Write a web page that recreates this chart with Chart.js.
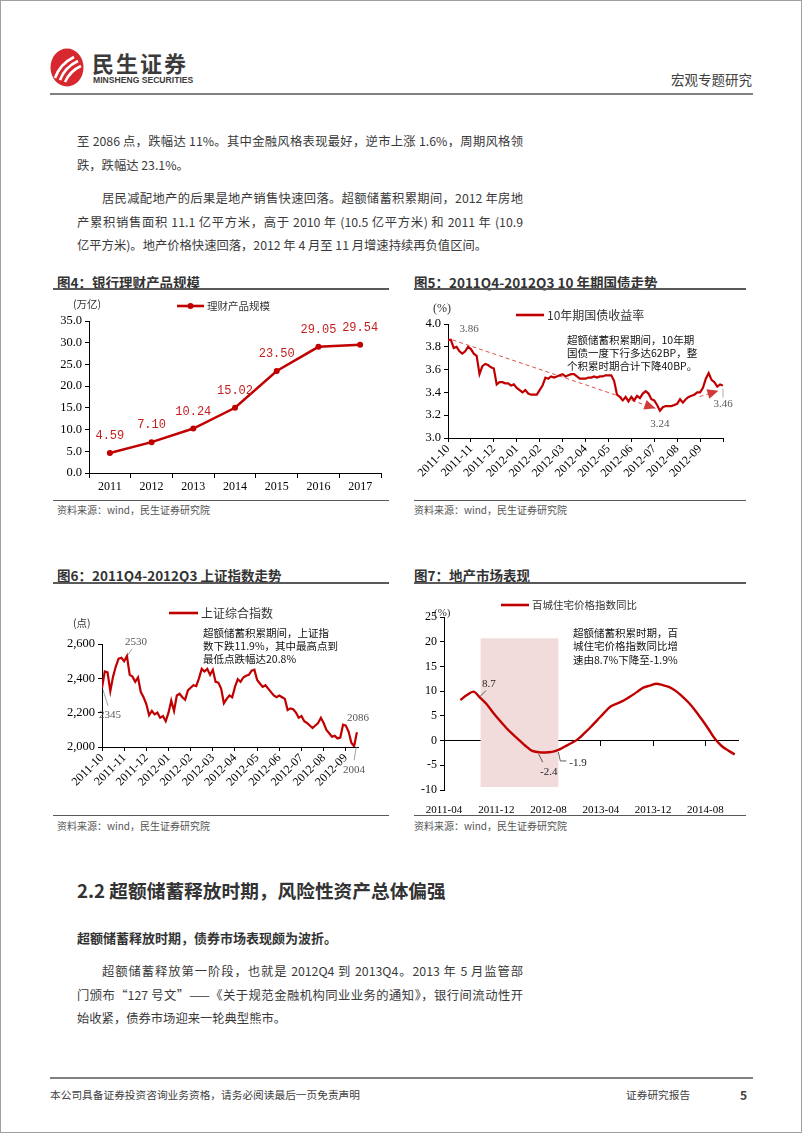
<!DOCTYPE html>
<html>
<head>
<meta charset="utf-8">
<script src="https://cdn.jsdelivr.net/npm/chart.js@4.4.1/dist/chart.umd.min.js"></script>
<style>
  html, body { margin: 0; padding: 0; background: #fff; }
  #page { position: relative; width: 802px; height: 1133px; box-sizing: border-box; border: 1px solid #a0a0a0;
          overflow: hidden; font-family: "Noto Sans CJK SC", "Noto Sans", sans-serif; color: #3a3a3a; }
  .abs { position: absolute; white-space: nowrap; }
  .line { position: absolute; height: 23px; line-height: 23px; font-size: 12.3px; white-space: nowrap; }
  .j { text-align: justify; text-align-last: justify; }
  .rule { position: absolute; background: #595959; height: 1.5px; }
  .ftitle { position: absolute; font-size: 13.5px; font-weight: bold; color: #333; line-height: 16px; white-space: nowrap; }
  .src { position: absolute; font-size: 10px; color: #555; line-height: 12px; white-space: nowrap; }
  canvas { position: absolute; }
</style>
</head>
<body>
<div id="page">
  <!-- header -->
  <svg class="abs" style="left:49px;top:47px" width="34" height="39" viewBox="0 0 34 39">
    <ellipse cx="17" cy="19.5" rx="16.5" ry="19" fill="#d7282f"/>
    <path d="M5 30 Q10 16 24 9" stroke="#fff" stroke-width="2.6" fill="none"/>
    <path d="M10 32 Q15 19 28 13" stroke="#fff" stroke-width="2.6" fill="none"/>
    <path d="M15 34 Q20 23 31 18" stroke="#fff" stroke-width="2.6" fill="none"/>
  </svg>
  <div class="abs" style="left:91px;top:48px;font-size:22px;font-weight:bold;letter-spacing:2px;color:#3b3b3b;line-height:26px">民生证券</div>
  <div class="abs" style="left:92px;top:74px;font-family:'Liberation Sans';font-size:8.6px;font-weight:bold;color:#3b3b3b;line-height:10px">MINSHENG SECURITIES</div>
  <div class="abs" style="left:670px;top:70px;font-size:13.5px;color:#404040;line-height:16px">宏观专题研究</div>
  <div class="rule" style="left:49px;top:92px;width:703px;height:2px;background:#808080"></div>

  <!-- body text -->
  <div class="line j" style="left:76px;top:129px;width:446px">至 2086 点，跌幅达 11%。其中金融风格表现最好，逆市上涨 1.6%，周期风格领</div>
  <div class="line" style="left:76px;top:153px">跌，跌幅达 23.1%。</div>
  <div class="line j" style="left:101px;top:186px;width:421px">居民减配地产的后果是地产销售快速回落。超额储蓄积累期间，2012 年房地</div>
  <div class="line j" style="left:76px;top:210px;width:446px">产累积销售面积 11.1 亿平方米，高于 2010 年 (10.5 亿平方米) 和 2011 年 (10.9</div>
  <div class="line" style="left:76px;top:233px">亿平方米)。地产价格快速回落，2012 年 4 月至 11 月增速持续再负值区间。</div>

  <!-- figure frames -->
  <div class="ftitle" style="left:56px;top:273px">图4：银行理财产品规模</div>
  <div class="rule" style="left:52px;top:287px;width:336px"></div>
  <div class="ftitle" style="left:413px;top:273px">图5：2011Q4-2012Q3 10 年期国债走势</div>
  <div class="rule" style="left:413px;top:287px;width:332px"></div>
  <div class="rule" style="left:52px;top:499px;width:336px;height:1px"></div>
  <div class="src" style="left:56px;top:503px">资料来源：wind，民生证券研究院</div>
  <div class="rule" style="left:413px;top:499px;width:332px;height:1px"></div>
  <div class="src" style="left:413px;top:503px">资料来源：wind，民生证券研究院</div>

  <div class="ftitle" style="left:56px;top:566px">图6：2011Q4-2012Q3 上证指数走势</div>
  <div class="rule" style="left:52px;top:581px;width:336px"></div>
  <div class="ftitle" style="left:413px;top:566px">图7：地产市场表现</div>
  <div class="rule" style="left:413px;top:581px;width:332px"></div>
  <div class="rule" style="left:52px;top:814px;width:336px;height:1px"></div>
  <div class="src" style="left:56px;top:819px">资料来源：wind，民生证券研究院</div>
  <div class="rule" style="left:413px;top:814px;width:332px;height:1px"></div>
  <div class="src" style="left:413px;top:819px">资料来源：wind，民生证券研究院</div>

  <canvas id="c4" width="340" height="205" style="left:50px;top:292px"></canvas>
  <canvas id="c5" width="360" height="205" style="left:400px;top:292px"></canvas>
  <canvas id="c6" width="340" height="227" style="left:50px;top:585px"></canvas>
  <canvas id="c7" width="360" height="227" style="left:400px;top:585px"></canvas>

  <!-- section -->
  <div class="abs" style="left:76px;top:876px;font-size:18.7px;font-weight:bold;color:#333;line-height:26px">2.2 超额储蓄释放时期，风险性资产总体偏强</div>
  <div class="abs" style="left:76px;top:928px;font-size:13px;font-weight:bold;color:#333;line-height:18px">超额储蓄释放时期，债券市场表现颇为波折。</div>
  <div class="line j" style="left:101px;top:959px;width:421px">超额储蓄释放第一阶段，也就是 2012Q4 到 2013Q4。2013 年 5 月监管部</div>
  <div class="line j" style="left:76px;top:983px;width:446px">门颁布“127 号文”——《关于规范金融机构同业业务的通知》，银行间流动性开</div>
  <div class="line" style="left:76px;top:1006px">始收紧，债券市场迎来一轮典型熊市。</div>

  <!-- footer -->
  <div class="rule" style="left:49px;top:1076px;width:703px;background:#808080"></div>
  <div class="abs" style="left:49px;top:1087px;font-size:10.7px;color:#404040;line-height:14px">本公司具备证券投资咨询业务资格，请务必阅读最后一页免责声明</div>
  <div class="abs" style="left:625px;top:1087px;font-size:10.7px;color:#404040;line-height:14px">证券研究报告</div>
  <div class="abs" style="left:739px;top:1086px;font-size:12px;font-weight:bold;color:#404040;line-height:15px">5</div>
</div>

<script>
// ---- data ----
const yearLabels = ['2011', '2012', '2013', '2014', '2015', '2016', '2017'];
const wmpScale = [4.59, 7.10, 10.24, 15.02, 23.50, 29.05, 29.54];

const monthLabels = ['2011-10', '2011-11', '2011-12', '2012-01', '2012-02', '2012-03',
                     '2012-04', '2012-05', '2012-06', '2012-07', '2012-08', '2012-09'];

// 10y CGB yield, ~8 readings per month from 2011-10 to 2012-09
const bondYield = [
  3.86, 3.86, 3.79, 3.80, 3.76, 3.74, 3.76, 3.80,
  3.78, 3.74, 3.72, 3.56, 3.63, 3.65, 3.64, 3.62,
  3.61, 3.47, 3.49, 3.49, 3.48, 3.48, 3.46, 3.47,
  3.44, 3.42, 3.40, 3.42, 3.39, 3.38, 3.38, 3.38,
  3.42, 3.46, 3.53, 3.52, 3.54, 3.53, 3.54, 3.55,
  3.56, 3.54, 3.55, 3.56, 3.56, 3.54, 3.52, 3.52,
  3.52, 3.53, 3.53, 3.54, 3.53, 3.54, 3.54, 3.55,
  3.55, 3.55, 3.50, 3.38, 3.36, 3.33, 3.36, 3.32,
  3.36, 3.33, 3.37, 3.35, 3.39, 3.41, 3.39, 3.34,
  3.33, 3.29, 3.24, 3.27, 3.28, 3.28, 3.28, 3.29,
  3.30, 3.34, 3.31, 3.34, 3.36, 3.37, 3.38, 3.40,
  3.40, 3.44, 3.52, 3.57, 3.51, 3.49, 3.45, 3.47,
  3.46
];
const bondTrends = [
  [{ x: 0.2, y: 3.86 }, { x: 9.05, y: 3.26 }],
  [{ x: 10.98, y: 3.363 }, { x: 11.8, y: 3.415 }]
];

// Shanghai Composite, ~8 readings per month from 2011-10 to 2012-09
const shIndex = [
  2345, 2440, 2435, 2325, 2410, 2470, 2515, 2520,
  2500, 2530, 2420, 2410, 2380, 2405, 2320, 2290,
  2250, 2185, 2210, 2190, 2200, 2170, 2180, 2150,
  2200, 2270, 2210, 2300, 2310, 2290, 2275, 2330,
  2345, 2360, 2355, 2400, 2455, 2440, 2455, 2420,
  2450, 2380, 2375, 2340, 2255, 2280, 2300, 2290,
  2350, 2395, 2380, 2405, 2415, 2420, 2445, 2450,
  2390, 2370, 2350, 2360, 2340, 2320, 2300, 2290,
  2300, 2290, 2280, 2215, 2225, 2220, 2200, 2170,
  2180, 2150, 2140, 2125, 2110, 2125, 2140, 2170,
  2140, 2100, 2080, 2060, 2065, 2050, 2055, 2130,
  2125, 2090, 2025, 2004, 2086
];

// 100-city home price index YoY, monthly 2011-06 .. 2014-12
const houseTicks = ['2011-04', '2011-12', '2012-08', '2013-04', '2013-12', '2014-08'];
const houseYoY = [
  8.2, 9.2, 9.9, 8.7, 7.4, 5.7, 4.1, 2.6, 1.3, 0.1,
  -1.1, -2.1, -2.35, -2.4, -2.3, -1.9, -1.2, -0.5, 0.3, 1.5,
  2.8, 4.2, 5.6, 6.9, 7.5, 8.1, 8.9, 9.8, 10.7, 11.1,
  11.5, 11.2, 10.8, 10.0, 8.9, 7.6, 6.0, 4.2, 2.3, 0.3,
  -1.1, -2.0, -2.8
];
const houseStart = 2;           // 2011-06 is month 2 after 2011-04
const savingPeriod = { from: 5.6, to: 17.5, top: 20.7, bottom: -9.4 };

// ---- helpers ----
const RED = '#c00000';
const CJK = '"Noto Sans CJK SC"';
const SERIF = '"Liberation Serif"';
Chart.defaults.font.family = SERIF;
Chart.defaults.color = '#000';

function text(ctx, s, x, y, font, color, align) {
  ctx.save();
  ctx.font = font;
  ctx.fillStyle = color || '#000';
  ctx.textAlign = align || 'left';
  ctx.textBaseline = 'middle';
  ctx.fillText(s, x, y);
  ctx.restore();
}
function seg(ctx, pts, color, width) {
  ctx.save();
  ctx.strokeStyle = color;
  ctx.lineWidth = width;
  ctx.beginPath();
  pts.forEach((p, i) => i ? ctx.lineTo(p[0], p[1]) : ctx.moveTo(p[0], p[1]));
  ctx.stroke();
  ctx.restore();
}
function legend(ctx, x, y, len, label, size, dot) {
  seg(ctx, [[x, y], [x + len, y]], RED, 2.6);
  if (dot) {
    ctx.save(); ctx.fillStyle = RED; ctx.beginPath();
    ctx.arc(x + len / 2, y, 3, 0, Math.PI * 2); ctx.fill(); ctx.restore();
  }
  text(ctx, label, x + len + 3, y, size + 'px ' + CJK, '#333');
}
function note(ctx, lines, x, y, gap) {
  lines.forEach((s, i) => text(ctx, s, x, y + i * gap, '10.5px ' + CJK, '#111'));
}
function pt(chart, x, y) {
  return [chart.scales.x.getPixelForValue(x), chart.scales.y.getPixelForValue(y)];
}
function axisY(opts) {
  return Object.assign({
    grid: { drawOnChartArea: false, tickLength: 4, color: '#000' },
    border: { color: '#000' }
  }, opts);
}
const GRAY = '#595959';
const base = { responsive: false, animation: false, events: [],
               plugins: { legend: { display: false }, tooltip: { enabled: false } } };

// ---- 图4 ----
new Chart(document.getElementById('c4'), {
  type: 'line',
  data: { labels: yearLabels, datasets: [{
    data: wmpScale, borderColor: RED, backgroundColor: RED, borderWidth: 2.5,
    pointRadius: 3, pointBorderWidth: 0, pointBackgroundColor: RED
  }] },
  options: Object.assign({}, base, {
    layout: { padding: { top: 28, right: 10, left: 0, bottom: 0 } },
    scales: {
      x: { offset: true,
           grid: { offset: true, drawOnChartArea: false, tickLength: 5, color: '#000' },
           border: { color: '#000' },
           ticks: { font: { size: 12 }, padding: 2 },
           afterFit: s => { s.height = 25; } },
      y: axisY({ min: 0, max: 35,
           ticks: { stepSize: 5, callback: v => v.toFixed(1), font: { size: 12.5 }, padding: 3 },
           afterFit: s => { s.width = 38; } })
    }
  }),
  plugins: [{
    id: 'decor4',
    afterDraw(chart) {
      const ctx = chart.ctx;
      text(ctx, '(万亿)', 22, 11, '10.5px ' + CJK, '#333');
      legend(ctx, 126, 13, 27, '理财产品规模', 10.5, true);
      wmpScale.forEach((v, i) => {
        const [x, y] = pt(chart, i, v);
        text(ctx, v.toFixed(2), x, y - 17, '12px "Liberation Mono"', '#c41e1e', 'center');
      });
    }
  }]
});

// ---- 图5 ----
function arrowHead(ctx, a, b, color) {
  const ang = Math.atan2(b[1] - a[1], b[0] - a[0]);
  ctx.save(); ctx.fillStyle = color; ctx.translate(b[0], b[1]); ctx.rotate(ang);
  ctx.beginPath(); ctx.moveTo(0, 0); ctx.lineTo(-11, -5); ctx.lineTo(-11, 5); ctx.closePath();
  ctx.fill(); ctx.restore();
}
new Chart(document.getElementById('c5'), {
  type: 'line',
  data: { datasets: [
    { data: bondYield.map((v, i) => ({ x: i / 8, y: v })), borderColor: RED, borderWidth: 2.2, pointRadius: 0 },
    ...bondTrends.map(d => ({ data: d, borderColor: '#d9534f', borderWidth: 1, borderDash: [4, 3], pointRadius: 0 }))
  ] },
  options: Object.assign({}, base, {
    layout: { padding: { top: 31, right: 38, left: 0, bottom: 0 } },
    scales: {
      x: { type: 'linear', min: 0, max: 12,
           grid: { drawOnChartArea: false, tickLength: 4, color: '#000' },
           border: { color: '#000' },
           ticks: { stepSize: 1, autoSkip: false, maxRotation: 45, minRotation: 45, padding: 0,
                    font: { size: 12 }, callback: v => monthLabels[v] || '' },
           afterFit: s => { s.height = 60; } },
      y: axisY({ min: 3, max: 4,
           ticks: { stepSize: 0.2, callback: v => v.toFixed(1), font: { size: 12.5 }, padding: 3 },
           afterFit: s => { s.width = 47; } })
    }
  }),
  plugins: [{
    id: 'decor5',
    afterDraw(chart) {
      const ctx = chart.ctx;
      text(ctx, '(%)', 32, 16, '12px ' + SERIF, '#333');
      legend(ctx, 115, 22, 28, '10年期国债收益率', 12, false);
      note(ctx, ['超额储蓄积累期间，10年期', '国债一度下行多达62BP，整', '个积累时期合计下降40BP。'], 166, 47, 13);
      bondTrends.forEach((d, k) => {
        const pts = chart.getDatasetMeta(k + 1).data;
        arrowHead(ctx, [pts[0].x, pts[0].y], [pts[1].x, pts[1].y], '#d23a3a');
      });
      const first = pt(chart, 0, bondYield[0]);
      text(ctx, bondYield[0].toFixed(2), first[0] + 21, first[1] - 11, '11px ' + SERIF, GRAY, 'center');
      const lo = bondYield.indexOf(Math.min(...bondYield));
      const low = pt(chart, lo / 8, bondYield[lo]);
      text(ctx, bondYield[lo].toFixed(2), low[0], low[1] + 13, '11px ' + SERIF, GRAY, 'center');
      const li = bondYield.length - 1;
      const last = pt(chart, li / 8, bondYield[li]);
      seg(ctx, [[last[0], last[1] + 3], [last[0], last[1] + 12]], '#999', 0.8);
      text(ctx, bondYield[li].toFixed(2), last[0], last[1] + 19, '11px ' + SERIF, GRAY, 'center');
    }
  }]
});

// ---- 图6 ----
new Chart(document.getElementById('c6'), {
  type: 'line',
  data: { datasets: [
    { data: shIndex.map((v, i) => ({ x: i / 8, y: v })), borderColor: RED, borderWidth: 2.2, pointRadius: 0 }
  ] },
  options: Object.assign({}, base, {
    layout: { padding: { top: 58, right: 33, left: 0, bottom: 0 } },
    scales: {
      x: { type: 'linear', min: 0, max: 11.55,
           grid: { drawOnChartArea: false, tickLength: 4, color: '#000' },
           border: { color: '#000' },
           ticks: { stepSize: 1, includeBounds: false, autoSkip: false, maxRotation: 45, minRotation: 45,
                    padding: 0, font: { size: 12 }, callback: v => monthLabels[v] || '' },
           afterFit: s => { s.height = 66; } },
      y: axisY({ min: 2000, max: 2600,
           ticks: { stepSize: 100, callback: v => v.toLocaleString('en-US'), font: { size: 12.5 }, padding: 3 },
           afterFit: s => { s.width = 51; } })
    }
  }),
  plugins: [{
    id: 'decor6',
    afterDraw(chart) {
      const ctx = chart.ctx;
      const f = '11px ' + SERIF;
      text(ctx, '(点)', 22, 37, '10.5px ' + CJK, '#333');
      legend(ctx, 118, 27, 29, '上证综合指数', 12, false);
      note(ctx, ['超额储蓄积累期间，上证指', '数下跌11.9%，其中最高点到', '最低点跌幅达20.8%'], 152, 47, 13);
      const hi = shIndex.indexOf(Math.max(...shIndex));
      const p = pt(chart, hi / 8, shIndex[hi]);
      seg(ctx, [[p[0] + 1, p[1] - 1], [p[0] + 5, p[1] - 7]], '#888', 0.8);
      text(ctx, String(shIndex[hi]), p[0] + 9, p[1] - 14, f, GRAY, 'center');
      const s = pt(chart, 0, shIndex[0]);
      seg(ctx, [[s[0] + 1, s[1] + 2], [s[0] + 6, s[1] + 18]], '#888', 0.8);
      text(ctx, String(shIndex[0]), s[0] + 8, s[1] + 27, f, GRAY, 'center');
      const li = shIndex.length - 1;
      const e = pt(chart, li / 8, shIndex[li]);
      text(ctx, String(shIndex[li]), e[0] + 1, e[1] - 14, f, GRAY, 'center');
      const lo = shIndex.indexOf(Math.min(...shIndex));
      const m = pt(chart, lo / 8, shIndex[lo]);
      seg(ctx, [[m[0] + 2, m[1] + 1], [m[0], m[1] + 14]], '#888', 0.8);
      text(ctx, String(shIndex[lo]), m[0], m[1] + 24, f, GRAY, 'center');
    }
  }]
});

// ---- 图7 ----
new Chart(document.getElementById('c7'), {
  type: 'line',
  data: { datasets: [{
    xAxisID: 'x', yAxisID: 'y',
    data: houseYoY.map((v, i) => ({ x: houseStart + 0.5 + i, y: v })),
    borderColor: RED, borderWidth: 2.4, pointRadius: 0, cubicInterpolationMode: 'monotone'
  }] },
  options: Object.assign({}, base, {
    layout: { padding: { top: 31, right: 23, left: 0, bottom: 0 } },
    scales: {
      x: { type: 'linear', min: 0, max: 45,
           grid: { display: false }, border: { display: false },
           ticks: { stepSize: 8, includeBounds: false, autoSkip: false, maxRotation: 0, padding: 6,
                    font: { size: 11 }, callback: v => houseTicks[v / 8] || '' },
           afterFit: s => { s.height = 23; } },
      x0: { axis: 'x', type: 'linear', position: { y: 0 }, min: 0, max: 45,
            grid: { drawOnChartArea: false, tickLength: 5, color: '#000' },
            border: { color: '#000' },
            ticks: { stepSize: 8, includeBounds: false, display: false },
            afterFit: s => { s.height = 0; } },
      y: axisY({ min: -10, max: 25,
           ticks: { stepSize: 5, font: { size: 12 }, padding: 3 },
           afterFit: s => { s.width = 43; } })
    }
  }),
  plugins: [{
    id: 'decor7',
    beforeDatasetsDraw(chart) {
      const ctx = chart.ctx;
      const a = pt(chart, savingPeriod.from, savingPeriod.top);
      const b = pt(chart, savingPeriod.to, savingPeriod.bottom);
      ctx.save(); ctx.fillStyle = '#f2dcdb'; ctx.fillRect(a[0], a[1], b[0] - a[0], b[1] - a[1]); ctx.restore();
    },
    afterDraw(chart) {
      const ctx = chart.ctx;
      const f = '11px ' + SERIF;
      text(ctx, '(%)', 33, 27, '11px ' + SERIF, '#333');
      legend(ctx, 100, 19, 28, '百城住宅价格指数同比', 10.5, false);
      note(ctx, ['超额储蓄积累时期，百', '城住宅价格指数同比增', '速由8.7%下降至-1.9%'], 172, 47, 13.5);
      const xAt = i => houseStart + 0.5 + i;
      const i1 = houseYoY.indexOf(8.7);
      const p1 = pt(chart, xAt(i1), houseYoY[i1]);
      seg(ctx, [[p1[0], p1[1] - 1], [p1[0] + 6, p1[1] - 7]], '#333', 0.8);
      text(ctx, houseYoY[i1].toFixed(1), p1[0] + 2, p1[1] - 13, f, '#222');
      const i2 = houseYoY.indexOf(-2.4);
      const p2 = pt(chart, xAt(i2 - 1), houseYoY[i2 - 1]);
      seg(ctx, [[p2[0], p2[1] + 2], [p2[0] + 4, p2[1] + 10]], '#333', 0.8);
      text(ctx, houseYoY[i2].toFixed(1), p2[0] + 10, p2[1] + 20, f, '#222', 'center');
      const i3 = houseYoY.indexOf(-1.9);
      const p3 = pt(chart, xAt(i3), houseYoY[i3]);
      seg(ctx, [[p3[0], p3[1] + 2], [p3[0] + 2, p3[1] + 11], [p3[0] + 8, p3[1] + 11]], '#333', 0.8);
      text(ctx, houseYoY[i3].toFixed(1), p3[0] + 11, p3[1] + 13, f, '#222');
    }
  }]
});
</script>
</body>
</html>
